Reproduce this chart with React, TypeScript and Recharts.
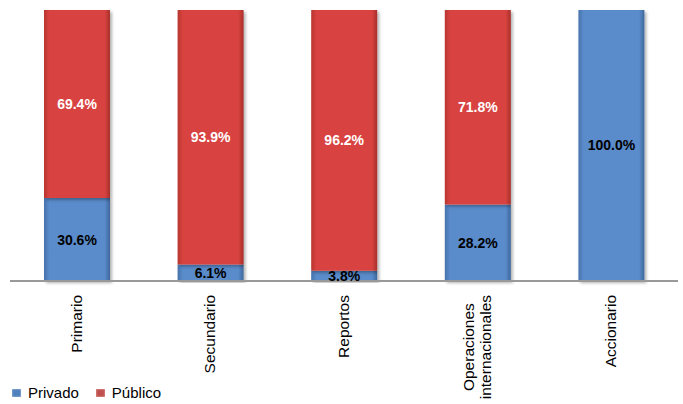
import { BarChart, Bar, XAxis, YAxis, LabelList } from 'recharts';

const categories = ['Primario', 'Secundario', 'Reportos', 'Operaciones internacionales', 'Accionario'];
const privado = [30.6, 6.1, 3.8, 28.2, 100.0];
const publico = [69.4, 93.9, 96.2, 71.8, 0];

const tickLines: Record<string, string[]> = {
  'Operaciones internacionales': ['Operaciones', 'internacionales'],
};

const FONT = '"Liberation Sans", Arial, sans-serif';

const data = categories.map((name, i) => ({
  name,
  privado: privado[i],
  publico: publico[i],
}));

let ctx: CanvasRenderingContext2D | null = null;
function textWidth(s: string, font: string) {
  if (!ctx) ctx = document.createElement('canvas').getContext('2d');
  if (!ctx) return s.length * 8;
  ctx.font = font;
  return ctx.measureText(s).width;
}

function CategoryTick(props: any) {
  const { x, y, payload } = props;
  const lines = tickLines[payload.value] ?? [payload.value];
  const font = `15.5px ${FONT}`;
  const widest = Math.max(...lines.map((l) => textWidth(l, font)));
  const top = y + 6;
  const mid = top + widest / 2;
  const lh = 17;
  return (
    <g transform={`translate(${x},${mid}) rotate(-90)`}>
      {lines.map((l, i) => (
        <text
          key={l}
          x={0}
          y={(i - (lines.length - 1) / 2) * lh + 5}
          textAnchor="middle"
          fontSize={15.5}
          fontFamily={FONT}
          fill="#000"
        >
          {l}
        </text>
      ))}
    </g>
  );
}

const fmt = (v: any) => (v > 0 ? `${Number(v).toFixed(1)}%` : '');

function ChartLegend() {
  const items = [
    { label: 'Privado', color: '#4F81BD' },
    { label: 'Público', color: '#C0504D' },
  ];
  return (
    <div
      style={{
        position: 'absolute',
        left: 12,
        top: 384,
        display: 'flex',
        fontFamily: FONT,
        fontSize: 15,
        color: '#000',
      }}
    >
      {items.map((it) => (
        <div key={it.label} style={{ display: 'flex', alignItems: 'center', marginRight: 17 }}>
          <span
            style={{
              display: 'inline-block',
              width: 9,
              height: 8,
              background: it.color,
              marginRight: 7,
              boxShadow: 'inset 0 0 2px rgba(255,255,255,0.7)',
            }}
          />
          {it.label}
        </div>
      ))}
    </div>
  );
}

export default function App() {
  return (
    <div style={{ position: 'absolute', left: 0, top: 0, width: 683, height: 404, background: '#fff', overflow: 'hidden' }}>
      <BarChart
        width={683}
        height={404}
        data={data}
        margin={{ top: 10, right: 5, bottom: 0, left: 10 }}
        barSize={66}
      >
        <defs>
          <linearGradient id="gBlue" x1="0" y1="0" x2="1" y2="0">
            <stop offset="0%" stopColor="#4773AC" />
            <stop offset="8%" stopColor="#5A8BCA" />
            <stop offset="92%" stopColor="#5A8BCA" />
            <stop offset="100%" stopColor="#3E679C" />
          </linearGradient>
          <linearGradient id="gRed" x1="0" y1="0" x2="1" y2="0">
            <stop offset="0%" stopColor="#B8352F" />
            <stop offset="8%" stopColor="#D8433F" />
            <stop offset="92%" stopColor="#D8433F" />
            <stop offset="100%" stopColor="#A82F2A" />
          </linearGradient>
          <filter id="shadow" x="-10%" y="-5%" width="125%" height="115%">
            <feDropShadow dx="2" dy="2" stdDeviation="1.5" floodColor="#000" floodOpacity="0.3" />
          </filter>
        </defs>
        <XAxis
          dataKey="name"
          axisLine={{ stroke: '#999', strokeWidth: 2 }}
          tickLine={false}
          interval={0}
          height={123}
          tick={<CategoryTick />}
        />
        <YAxis hide domain={[0, 100]} />
        <Bar
          dataKey="privado"
          name="Privado"
          stackId="a"
          fill="url(#gBlue)"
          filter="url(#shadow)"
          isAnimationActive={false}
        >
          <LabelList
            dataKey="privado"
            position="center"
            formatter={fmt}
            fill="#000"
            fontSize={14}
            fontWeight="bold"
            fontFamily={FONT}
          />
        </Bar>
        <Bar
          dataKey="publico"
          name="Público"
          stackId="a"
          fill="url(#gRed)"
          filter="url(#shadow)"
          isAnimationActive={false}
        >
          <LabelList
            dataKey="publico"
            position="center"
            formatter={fmt}
            fill="#fff"
            fontSize={14}
            fontWeight="bold"
            fontFamily={FONT}
          />
        </Bar>
      </BarChart>
      <ChartLegend />
    </div>
  );
}
